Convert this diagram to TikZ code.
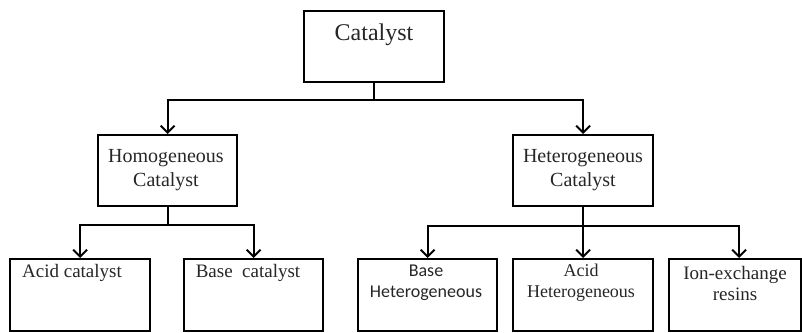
\documentclass[tikz,border=0pt]{standalone}
\usepackage{fontspec}
\setmainfont{Liberation Serif}
\newfontfamily\calib{Carlito}
\usetikzlibrary{arrows.meta}
\begin{document}
\begin{tikzpicture}[x=1pt,y=-1pt,
  box/.style={draw, line width=2.2pt, inner sep=0pt, anchor=north west},
  link/.style={line width=2.2pt},
  arr/.style={link, -{Straight Barb[length=7pt,width=14pt,line width=1.9pt]}},
  txt/.style={inner sep=0pt, align=center, text=black!85}
]
\useasboundingbox (0,0) rectangle (802,332);

% boxes
\node[box, minimum width=140pt, minimum height=71pt] (cat) at (303,10) {};
\node[box, minimum width=139pt, minimum height=71pt] (homo) at (97,134) {};
\node[box, minimum width=140pt, minimum height=71pt] (hetero) at (512,134) {};
\node[box, minimum width=140pt, minimum height=72pt] (acid) at (9,258) {};
\node[box, minimum width=139pt, minimum height=72pt] (base) at (183,258) {};
\node[box, minimum width=139pt, minimum height=72pt] (bhet) at (357,258) {};
\node[box, minimum width=140pt, minimum height=72pt] (ahet) at (512,258) {};
\node[box, minimum width=132pt, minimum height=72pt] (ion) at (668,258) {};

% texts
\node[txt, font=\fontsize{24}{28}\selectfont] (cattxt) at (374,35) {Catalyst};
\node[txt, font=\fontsize{20}{24}\selectfont] (homotxt) at (166,170) {Homogeneous\\Catalyst};
\node[txt, font=\fontsize{20}{24}\selectfont] (hettxt) at (583,170) {Heterogeneous\\Catalyst};
\node[txt, font=\fontsize{19}{21}\selectfont] (acidtxt) at (72,273) {Acid catalyst};
\node[txt, font=\fontsize{19}{21}\selectfont] (basetxt) at (248,273) {Base \ catalyst};
\node[txt, font=\calib\fontsize{18}{21}\selectfont] (bhettxt) at (426,283) {Base\\Heterogeneous};
\node[txt, font=\fontsize{18}{21}\selectfont] (ahettxt) at (581,283) {Acid\\Heterogeneous};
\node[txt, font=\fontsize{19}{21}\selectfont] (iontxt) at (735,283) {Ion-exchange\\resins};

% connectors
\draw[link] (cat.south) -- ++(0,17) coordinate (j0);
\draw[arr] (j0) -| (homo.north);
\draw[arr] (j0) -| (hetero.north);

\draw[link] (homo.south) -- ++(0,18) coordinate (j1);
\draw[arr] (j1) -| (acid.north);
\draw[arr] (j1) -| (base.north);

\draw[link] (hetero.south) -- ++(0,19) coordinate (j2);
\draw[arr] (j2) -| (bhet.north);
\draw[arr] (j2) -- (ahet.north);
\draw[arr] (j2) -| ([xshift=4pt]ion.north);
\end{tikzpicture}
\end{document}
